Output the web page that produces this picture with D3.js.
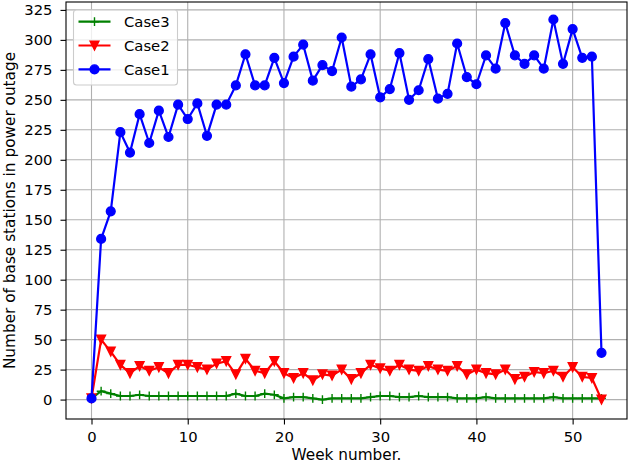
<!DOCTYPE html>
<html>
<head>
<meta charset="utf-8">
<script src="https://d3js.org/d3.v7.min.js"></script>
<style>
  body { margin: 0; background: #fff; }
  svg text { font-family: "DejaVu Sans", sans-serif; }
</style>
</head>
<body>
<div id="chart"></div>
<script>
// values, one per week (0..53)
var case1 = [1, 134, 157, 223, 206, 238, 214, 241, 219, 246, 234, 247, 220, 246, 246, 262, 288, 262, 262, 285,
             264, 286, 296, 266, 279, 274, 302, 261, 267, 288, 252, 259, 289, 250, 258, 284, 251, 255, 297, 269,
             263, 287, 276, 314, 287, 280, 287, 276, 317, 280, 309, 285, 286, 39];
var case2 = [1, 50, 40, 29, 22, 28, 24, 27, 22, 29, 29, 27, 25, 30, 32, 21, 34, 24, 22, 32,
             22, 18, 22, 16, 21, 20, 25, 17, 22, 29, 26, 24, 29, 25, 24, 28, 25, 24, 28, 21,
             25, 22, 21, 25, 17, 19, 23, 22, 24, 19, 27, 19, 18, 0];
var case3 = [1, 7, 5, 3, 3, 4, 3, 3, 3, 3, 3, 3, 3, 3, 3, 5, 3, 3, 5, 4,
             1, 2, 2, 1, 0, 1, 1, 1, 1, 2, 3, 3, 2, 2, 3, 2, 2, 2, 1, 1,
             1, 2, 1, 1, 1, 1, 1, 1, 2, 1, 1, 1, 1, 1];
var xTicks = [0, 10, 20, 30, 40, 50];
var yTicks = [0, 25, 50, 75, 100, 125, 150, 175, 200, 225, 250, 275, 300, 325];
var seriesNames = ["Case3", "Case2", "Case1"];
var seriesColors = ["#008000", "#ff0000", "#0000ff"];

var width = 628, height = 464;
var pLeft = 66, pRight = 627, pTop = 2, pBottom = 419;

var svg = d3.select("#chart").append("svg")
    .attr("width", width)
    .attr("height", height);

var x = d3.scaleLinear().domain([-2.65, 55.65]).range([pLeft, pRight]);
var y = d3.scaleLinear().domain([-16.2, 331.6]).range([pBottom, pTop]);

// grid
svg.append("g").selectAll("line").data(xTicks).enter().append("line")
    .attr("x1", function (d) { return x(d); }).attr("x2", function (d) { return x(d); })
    .attr("y1", pTop).attr("y2", pBottom)
    .style("stroke", "#b0b0b0").style("stroke-width", 1.1);
svg.append("g").selectAll("line").data(yTicks).enter().append("line")
    .attr("x1", pLeft).attr("x2", pRight)
    .attr("y1", function (d) { return y(d); }).attr("y2", function (d) { return y(d); })
    .style("stroke", "#b0b0b0").style("stroke-width", 1.1);

// axes
var xAxis = d3.axisBottom(x).tickValues(xTicks).tickSize(5.5).tickPadding(7);
var yAxis = d3.axisLeft(y).tickValues(yTicks).tickSize(5.5).tickPadding(8);
var gx = svg.append("g").attr("transform", "translate(0," + pBottom + ")").call(xAxis);
var gy = svg.append("g").attr("transform", "translate(" + pLeft + ",0)").call(yAxis);
[gx, gy].forEach(function (g) {
    g.select(".domain").remove();
    g.selectAll(".tick line").style("stroke", "#000").style("stroke-width", 1.1);
    g.selectAll(".tick text").style("font-size", "14.8px").style("fill", "#000")
        .style("font-family", "'DejaVu Sans', sans-serif");
});

var line = d3.line()
    .x(function (d, i) { return x(i); })
    .y(function (d) { return y(d); });

var triDown = "M0,4.4L-4.4,-4.4L4.4,-4.4Z";
var plus = "M-4.4,0H4.4M0,-4.4V4.4";

svg.append("clipPath").attr("id", "clip").append("rect")
    .attr("x", pLeft).attr("y", pTop).attr("width", pRight - pLeft).attr("height", pBottom - pTop);
var plot = svg.append("g").attr("clip-path", "url(#clip)");

function drawSeries(data, color, kind) {
    plot.append("path").datum(data)
        .attr("d", line)
        .style("fill", "none").style("stroke", color).style("stroke-width", 2.2)
        .style("stroke-linejoin", "round");
    var pts = plot.append("g").selectAll("m").data(data).enter();
    if (kind === "circle") {
        pts.append("circle")
            .attr("cx", function (d, i) { return x(i); })
            .attr("cy", function (d) { return y(d); })
            .attr("r", 4.4)
            .style("fill", color).style("stroke", color).style("stroke-width", 1.4);
    } else {
        pts.append("path")
            .attr("transform", function (d, i) { return "translate(" + x(i) + "," + y(d) + ")"; })
            .attr("d", kind === "tri" ? triDown : plus)
            .style("fill", kind === "tri" ? color : "none")
            .style("stroke", color).style("stroke-width", 1.4);
    }
}
drawSeries(case3, seriesColors[0], "plus");
drawSeries(case2, seriesColors[1], "tri");
drawSeries(case1, seriesColors[2], "circle");

// frame
svg.append("rect")
    .attr("x", pLeft).attr("y", pTop).attr("width", pRight - pLeft).attr("height", pBottom - pTop)
    .style("fill", "none").style("stroke", "#000").style("stroke-width", 1.1);

// legend
var leg = svg.append("g");
leg.append("rect")
    .attr("x", 73.5).attr("y", 10).attr("width", 104).attr("height", 75).attr("rx", 3)
    .style("fill", "#fff").style("fill-opacity", 0.8)
    .style("stroke", "#cccccc").style("stroke-width", 1.1);
var kinds = ["plus", "tri", "circle"];
seriesNames.forEach(function (name, i) {
    var cy = 21.7 + i * 23.8;
    leg.append("line").attr("x1", 78.5).attr("x2", 110.5).attr("y1", cy).attr("y2", cy)
        .style("stroke", seriesColors[i]).style("stroke-width", 2.2);
    if (kinds[i] === "circle") {
        leg.append("circle").attr("cx", 94.5).attr("cy", cy).attr("r", 4.4)
            .style("fill", seriesColors[i]).style("stroke", seriesColors[i]).style("stroke-width", 1.4);
    } else {
        leg.append("path").attr("transform", "translate(94.5," + cy + ")")
            .attr("d", kinds[i] === "tri" ? triDown : plus)
            .style("fill", kinds[i] === "tri" ? seriesColors[i] : "none")
            .style("stroke", seriesColors[i]).style("stroke-width", 1.4);
    }
    leg.append("text").attr("x", 124).attr("y", cy + 5.3)
        .style("font-size", "14.8px").text(name);
});

// axis labels
svg.append("text")
    .attr("x", (pLeft + pRight) / 2).attr("y", 460)
    .attr("text-anchor", "middle").style("font-size", "15.3px")
    .text("Week number.");
svg.append("text")
    .attr("transform", "translate(14.5," + ((pTop + pBottom) / 2) + ") rotate(-90)")
    .attr("text-anchor", "middle").style("font-size", "15.3px")
    .text("Number of base stations in power outage");
</script>
</body>
</html>
